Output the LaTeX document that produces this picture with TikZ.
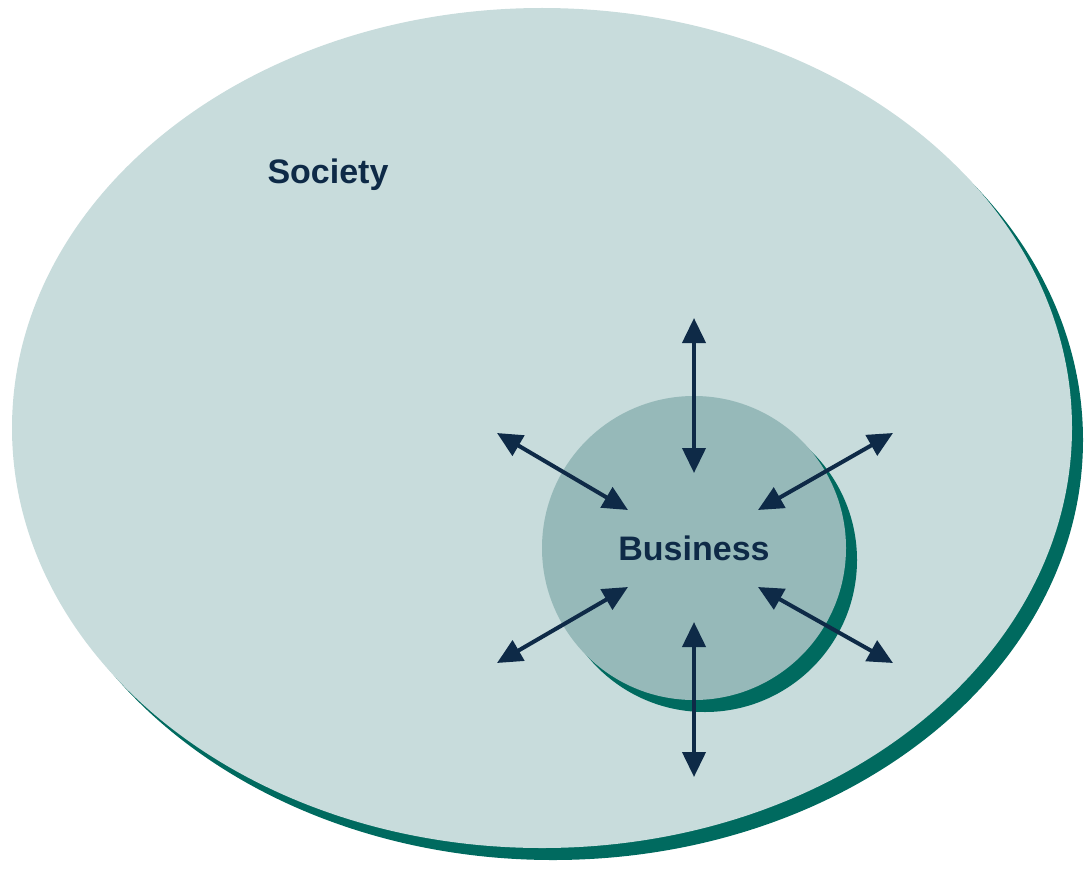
\documentclass[tikz,border=0pt]{standalone}
\usepackage{fontspec}
\setmainfont{Liberation Sans}
\usetikzlibrary{arrows.meta,positioning}
\definecolor{societyfill}{HTML}{C8DCDC}
\definecolor{businessfill}{HTML}{96B9B9}
\definecolor{skygge}{HTML}{006A5F}
\definecolor{navy}{HTML}{0E2A47}
\tikzset{
    pil/.style={
           {Triangle[length=25pt,width=23pt]}-{Triangle[length=25pt,width=23pt]},
           line width=4pt,
           draw=navy},
    etikett/.style={
           font=\fontsize{34}{40}\selectfont\bfseries,
           text=navy,
           inner sep=0pt}
}
\begin{document}
\begin{tikzpicture}[x=1pt, y=-1pt]
        \useasboundingbox (0,0) rectangle (1086,872);

        % society with its shadow
        \fill[skygge] (553,440) ellipse [x radius=530pt, y radius=420pt];
        \fill[societyfill] (542,428) ellipse [x radius=530pt, y radius=420pt];
        % business with its shadow
        \fill[skygge] (705,560) circle [radius=152pt];
        \fill[businessfill] (694,548) circle [radius=152pt];

        \node[etikett] (society) at (328,175) {Society};
        \node[etikett] (business) at (694,548) {Business};

        \coordinate (n-ut) at (694,318);
        \coordinate (n-inn) at (694,473);
        \coordinate (s-ut) at (694,777);
        \coordinate (s-inn) at (694,622);
        \coordinate (nv-ut) at (497,433);
        \coordinate (nv-inn) at (628,510);
        \coordinate (no-ut) at (893,433);
        \coordinate (no-inn) at (758,510);
        \coordinate (sv-ut) at (497,663);
        \coordinate (sv-inn) at (628,587);
        \coordinate (so-ut) at (893,663);
        \coordinate (so-inn) at (758,587);

        \draw[pil] (n-ut) -- (n-inn);
        \draw[pil] (s-ut) -- (s-inn);
        \draw[pil] (nv-ut) -- (nv-inn);
        \draw[pil] (no-ut) -- (no-inn);
        \draw[pil] (sv-ut) -- (sv-inn);
        \draw[pil] (so-ut) -- (so-inn);
\end{tikzpicture}
\end{document}
